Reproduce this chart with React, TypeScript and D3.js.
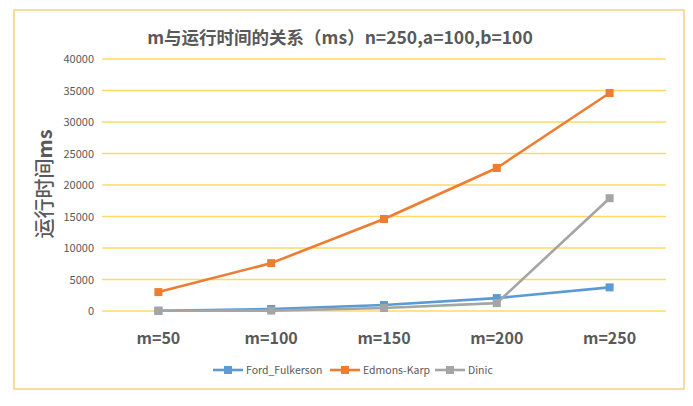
import React from "react";
import * as d3 from "d3";

const categories = ["m=50", "m=100", "m=150", "m=200", "m=250"];
const fordFulkerson = [50, 320, 950, 2050, 3750];
const edmondsKarp = [3000, 7600, 14600, 22700, 34600];
const dinic = [30, 60, 480, 1250, 17900];
const yTicks = [0, 5000, 10000, 15000, 20000, 25000, 30000, 35000, 40000];
const seriesNames = ["Ford_Fulkerson", "Edmons-Karp", "Dinic"];
const seriesColors = ["#5B9BD5", "#ED7D31", "#A5A5A5"];

const W = 693, H = 406;
const font = "'Noto Sans CJK SC', 'Liberation Sans', sans-serif";

export default function App() {
  const x = d3.scaleBand().domain(categories).range([102, 666]);
  const y = d3.scaleLinear().domain([0, 40000]).range([311, 59]);
  const line = d3.line<number>()
    .x((_, i) => (x(categories[i]) as number) + x.bandwidth() / 2)
    .y((d) => y(d));
  const series = [fordFulkerson, edmondsKarp, dinic];
  const legendX = [213, 330, 435];
  const ly = 370;
  return (
    <svg width={W} height={H} style={{ position: "absolute", left: 0, top: 0 }}>
      <rect x={0} y={0} width={W} height={H} fill="#fff" />
      <rect x={14} y={10} width={670} height={379} fill="#fff" stroke="#F5C86A" strokeWidth={1.3} />
      <text x={340} y={44} textAnchor="middle" fontFamily={font} fontWeight="bold" fontSize={17.5} fill="#595959">
        m与运行时间的关系（ms）n=250,a=100,b=100
      </text>
      {yTicks.map((t) => (
        <g key={t}>
          <line x1={102} x2={666} y1={y(t)} y2={y(t)} stroke="#FFD966" strokeWidth={1.3} />
          <text x={94} y={y(t) + 4} textAnchor="end" fontFamily={font} fontSize={11} fill="#595959">{t}</text>
        </g>
      ))}
      <text transform="translate(52,184) rotate(-90)" textAnchor="middle" fontFamily={font} fontSize={20} fontWeight={500} fill="#595959">
        运行时间<tspan fontWeight="bold">ms</tspan>
      </text>
      {categories.map((c) => (
        <text key={c} x={(x(c) as number) + x.bandwidth() / 2} y={344} textAnchor="middle" fontFamily={font} fontWeight="bold" fontSize={16} fill="#595959">{c}</text>
      ))}
      {series.map((s, si) => (
        <g key={si}>
          <path d={line(s) || ""} fill="none" stroke={seriesColors[si]} strokeWidth={2.6} strokeLinejoin="round" />
          {s.map((v, i) => (
            <rect key={i} x={(x(categories[i]) as number) + x.bandwidth() / 2 - 4} y={y(v) - 4} width={8} height={8} fill={seriesColors[si]} />
          ))}
        </g>
      ))}
      {seriesNames.map((n, i) => (
        <g key={n}>
          <line x1={legendX[i]} x2={legendX[i] + 30} y1={ly} y2={ly} stroke={seriesColors[i]} strokeWidth={2.6} />
          <rect x={legendX[i] + 11} y={ly - 4} width={8} height={8} fill={seriesColors[i]} />
          <text x={legendX[i] + 33} y={ly + 4} fontFamily={font} fontSize={10.5} fill="#595959">{n}</text>
        </g>
      ))}
    </svg>
  );
}
